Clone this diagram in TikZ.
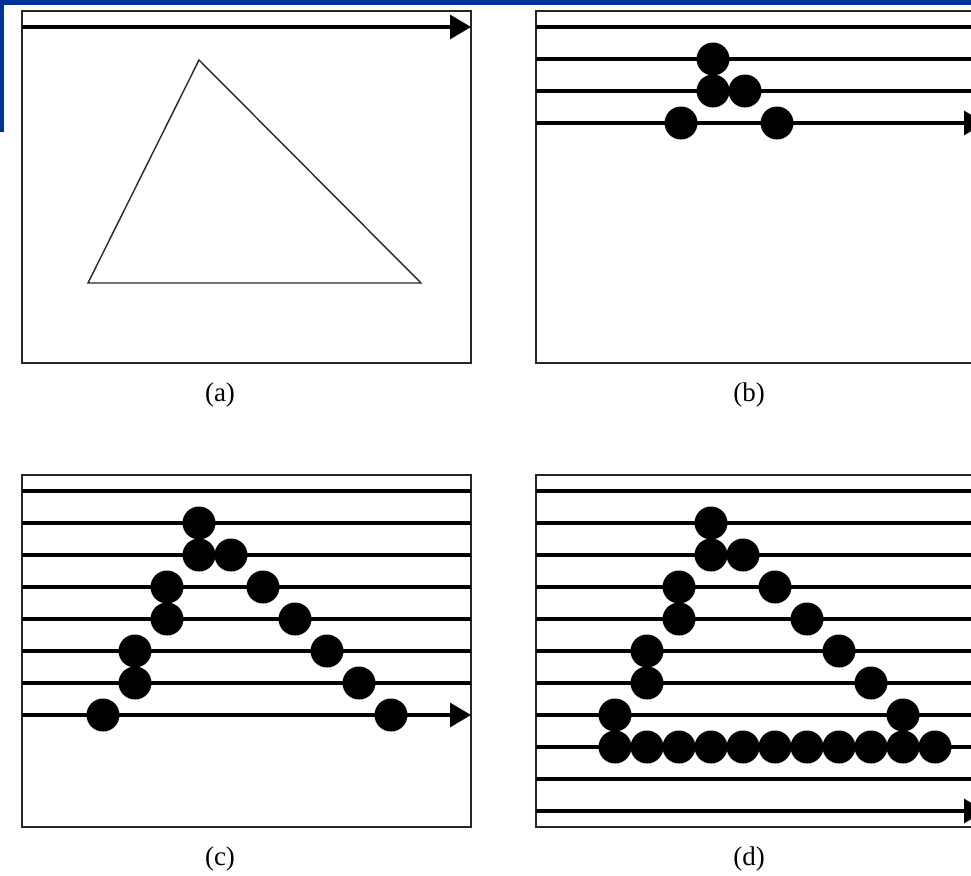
\documentclass[tikz,border=0pt]{standalone}
\usepackage{fontspec}
\setmainfont{Liberation Serif}
\usetikzlibrary{arrows.meta}
\definecolor{slideblue}{RGB}{0,51,153}

\begin{document}
\begin{tikzpicture}[x=1pt, y=-1pt,
        panel/.style={draw=black!85, line width=1.8pt},
        scanline/.style={line width=3.2pt},
        scanarrow/.style={scanline, -{Triangle[length=21pt,width=24pt]}},
        caption/.style={font=\fontsize{27}{30}\selectfont, inner sep=0pt}]
        \clip (0,0) rectangle (971,875);

        % Slide frame
        \fill [slideblue] (0,0) rectangle (971,5);
        \fill [slideblue] (0,0) rectangle (4,132);

        % Panel frames
        \foreach \x/\y in {22/11, 536/11, 22/475, 536/475} {
            \draw [panel] (\x,\y) rectangle ++(449,352);
        }

        % (a) triangle and first scan line
        \coordinate (apex) at (199,60);
        \coordinate (left) at (88,283);
        \coordinate (right) at (421,283);
        \draw [line width=1.4pt, black!85] (apex) -- (left) -- (right) -- cycle;
        \coordinate (a0) at (22,27);
        \coordinate (a1) at (471,27);
        \draw [scanarrow] (a0) -- (a1);

        % (b) after four scan lines
        \foreach \r in {0,1,2} {
            \draw [scanline] (536,27+32*\r) -- (985,27+32*\r);
        }
        \draw [scanarrow] (536,123) -- (985,123);
        \foreach \r/\j in {1/3, 2/3, 2/4, 3/2, 3/5} {
            \fill (617+32*\j,27+32*\r) circle [radius=16.5pt];
        }

        % (c) after eight scan lines
        \foreach \r in {0,...,6} {
            \draw [scanline] (22,491+32*\r) -- (471,491+32*\r);
        }
        \draw [scanarrow] (22,715) -- (471,715);

        % (d) after eleven scan lines
        \foreach \r in {0,...,9} {
            \draw [scanline] (536,491+32*\r) -- (985,491+32*\r);
        }
        \draw [scanarrow] (536,811) -- (985,811);

        % Pixels of the two edges, in (c) and (d)
        \foreach \x in {103,615} {
            \foreach \r/\j in {1/3, 2/3, 2/4, 3/2, 3/5, 4/2, 4/6, 5/1, 5/7, 6/1, 6/8, 7/0, 7/9} {
                \fill (\x+32*\j,491+32*\r) circle [radius=16.5pt];
            }
        }
        % Bottom edge in (d)
        \foreach \j in {0,...,10} {
            \fill (615+32*\j,747) circle [radius=16.5pt];
        }

        % Captions
        \node [caption] (capA) at (220,395) {(a)};
        \node [caption] (capB) at (749,395) {(b)};
        \node [caption] (capC) at (220,859) {(c)};
        \node [caption] (capD) at (749,859) {(d)};
\end{tikzpicture}
\end{document}
